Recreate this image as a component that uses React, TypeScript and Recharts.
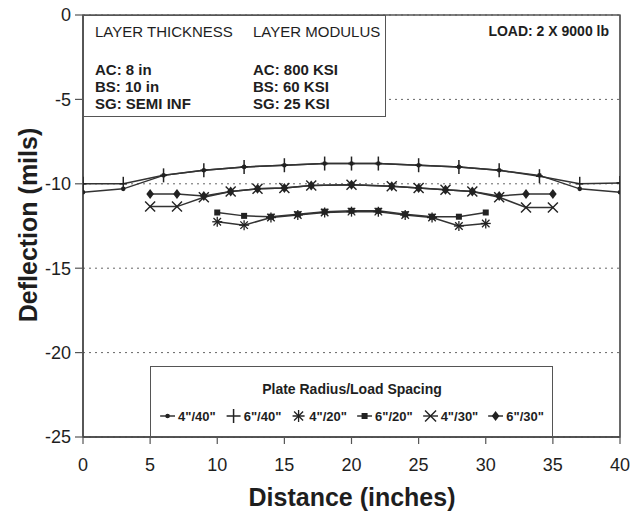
import React from 'react';
import { LineChart, Line, XAxis, YAxis, CartesianGrid, ReferenceArea } from 'recharts';

// ---- data ----
const pos40 = [0, 3, 6, 9, 12, 15, 18, 20, 22, 25, 28, 31, 34, 37, 40];
const defl4in40 = [-10.5, -10.3, -9.5, -9.2, -9.0, -8.9, -8.8, -8.8, -8.8, -8.9, -9.0, -9.2, -9.5, -10.3, -10.5];
const defl6in40 = [-10.0, -10.0, -9.5, -9.2, -9.0, -8.9, -8.8, -8.8, -8.8, -8.9, -9.0, -9.2, -9.55, -10.0, -9.95];

const pos30 = [5, 7, 9, 11, 13, 15, 17, 20, 23, 25, 27, 29, 31, 33, 35];
const defl6in30 = [-10.6, -10.6, -10.72, -10.45, -10.3, -10.25, -10.1, -10.05, -10.15, -10.25, -10.35, -10.45, -10.72, -10.6, -10.6];
const defl4in30 = [-11.35, -11.35, -10.8, -10.45, -10.3, -10.25, -10.1, -10.05, -10.15, -10.25, -10.35, -10.45, -10.8, -11.4, -11.4];

const pos20 = [10, 12, 14, 16, 18, 20, 22, 24, 26, 28, 30];
const defl6in20 = [-11.7, -11.9, -11.95, -11.8, -11.65, -11.6, -11.6, -11.8, -11.95, -11.95, -11.7];
const defl4in20 = [-12.25, -12.45, -12.0, -11.85, -11.7, -11.65, -11.65, -11.85, -12.0, -12.5, -12.35];

const xTicks = [0, 5, 10, 15, 20, 25, 30, 35, 40];
const yTicks = [0, -5, -10, -15, -20, -25];

const seriesNames = ['4"/40"', '6"/40"', '4"/20"', '6"/20"', '4"/30"', '6"/30"'];
const seriesShapes = ['dot', 'plus', 'star', 'square', 'x', 'diamond'];

const infoLeft = ['LAYER THICKNESS', 'AC: 8 in', 'BS: 10 in', 'SG: SEMI INF'];
const infoRight = ['LAYER MODULUS', 'AC: 800 KSI', 'BS: 60 KSI', 'SG: 25 KSI'];
const loadText = 'LOAD: 2 X 9000 lb';
const legendTitle = 'Plate Radius/Load Spacing';

const zip = (xs: number[], ys: number[]) => xs.map((x, i) => ({ x, y: ys[i] }));
const s4_40 = zip(pos40, defl4in40);
const s6_40 = zip(pos40, defl6in40);
const s4_20 = zip(pos20, defl4in20);
const s6_20 = zip(pos20, defl6in20);
const s4_30 = zip(pos30, defl4in30);
const s6_30 = zip(pos30, defl6in30);

const FONT = '"Liberation Sans", Arial, Helvetica, sans-serif';
const INK = '#1e1e1e';
const LINE = '#333';

function Marker({ shape, cx, cy, legend = false }: any) {
  const c = '#222';
  if (shape === 'dot') return <circle cx={cx} cy={cy} r={2.3} fill={c} />;
  if (shape === 'plus') {
    const v = 7;
    const h = legend ? 7 : 3.5;
    return (
      <g stroke={c} strokeWidth={1.5}>
        <line x1={cx} y1={cy - v} x2={cx} y2={cy + v} />
        <line x1={cx - h} y1={cy} x2={cx + h} y2={cy} />
      </g>
    );
  }
  if (shape === 'star') {
    const r = legend ? 6 : 5;
    const d = r * 0.75;
    return (
      <g stroke={c} strokeWidth={1.3}>
        <line x1={cx - r} y1={cy} x2={cx + r} y2={cy} />
        <line x1={cx} y1={cy - r} x2={cx} y2={cy + r} />
        <line x1={cx - d} y1={cy - d} x2={cx + d} y2={cy + d} />
        <line x1={cx - d} y1={cy + d} x2={cx + d} y2={cy - d} />
      </g>
    );
  }
  if (shape === 'square') return <rect x={cx - 3} y={cy - 3} width={6} height={6} fill={c} />;
  if (shape === 'x') {
    const r = legend ? 5.5 : 5;
    return (
      <g stroke={c} strokeWidth={1.4}>
        <line x1={cx - r} y1={cy - r} x2={cx + r} y2={cy + r} />
        <line x1={cx - r} y1={cy + r} x2={cx + r} y2={cy - r} />
      </g>
    );
  }
  if (shape === 'diamond')
    return <polygon points={`${cx},${cy - 5} ${cx + 3.8},${cy} ${cx},${cy + 5} ${cx - 3.8},${cy}`} fill={c} />;
  return null;
}

const dotFor = (shape: string) => (props: any) => {
  const { cx, cy, index } = props;
  if (cx == null || cy == null) return <g key={`e-${shape}-${index}`} />;
  return (
    <g key={`m-${shape}-${index}`}>
      <Marker shape={shape} cx={cx} cy={cy} />
    </g>
  );
};

function LegendIcon({ shape }: { shape: string }) {
  const withLine = shape === 'dot' || shape === 'square' || shape === 'diamond' || shape === 'x';
  return (
    <svg width={15} height={15} style={{ display: 'block' }}>
      {withLine && <line x1={0} y1={7.5} x2={15} y2={7.5} stroke={LINE} strokeWidth={1.4} />}
      <Marker shape={shape} cx={7.5} cy={7.5} legend />
    </svg>
  );
}

export default function App() {
  const W = 631;
  const H = 514;
  // container starts at page y = 0 (marginTop -8 cancels the body margin), page x = 8
  const abs = (left: number, top: number, extra: any = {}) => ({
    position: 'absolute' as const,
    left,
    top,
    whiteSpace: 'nowrap' as const,
    ...extra,
  });
  const infoRows = [31, 69, 86, 103];
  return (
    <div style={{ position: 'relative', marginTop: -8, width: W, height: H, fontFamily: FONT, color: INK, background: '#fff' }}>
      <LineChart width={W} height={H} margin={{ top: 15, right: 0, bottom: 0, left: 0 }}>
        <CartesianGrid horizontal vertical={false} stroke="#666" strokeDasharray="2 4" yAxisId="left" />
        <XAxis
          type="number"
          dataKey="x"
          domain={[0, 40]}
          ticks={xTicks}
          interval={0}
          allowDataOverflow
          height={77}
          tickSize={7}
          tickMargin={14}
          axisLine={{ stroke: '#444', strokeWidth: 1.5 }}
          tickLine={{ stroke: '#555', strokeWidth: 1.2 }}
          tick={{ fill: INK, fontSize: 18, fontFamily: FONT }}
        />
        <YAxis
          yAxisId="left"
          type="number"
          domain={[-25, 0]}
          ticks={yTicks}
          interval={0}
          allowDataOverflow
          width={75}
          tickSize={8}
          tickMargin={4}
          axisLine={{ stroke: '#444', strokeWidth: 1.5 }}
          tickLine={{ stroke: '#555', strokeWidth: 1.2 }}
          tick={{ fill: INK, fontSize: 18, fontFamily: FONT }}
        />
        <YAxis
          yAxisId="right"
          orientation="right"
          type="number"
          domain={[-25, 0]}
          ticks={yTicks}
          interval={0}
          width={19}
          tickSize={6}
          tick={false}
          axisLine={{ stroke: '#555', strokeWidth: 1.3 }}
          tickLine={{ stroke: '#666', strokeWidth: 1 }}
        />
        <ReferenceArea yAxisId="left" x1={0} x2={40} y1={-25} y2={0} fill="none" stroke="#555" strokeWidth={1.3} />
        <Line yAxisId="left" data={s4_40} dataKey="y" stroke={LINE} strokeWidth={1.5} dot={dotFor('dot')} isAnimationActive={false} />
        <Line yAxisId="left" data={s6_40} dataKey="y" stroke={LINE} strokeWidth={1.5} dot={dotFor('plus')} isAnimationActive={false} />
        <Line yAxisId="left" data={s4_20} dataKey="y" stroke={LINE} strokeWidth={1.5} dot={dotFor('star')} isAnimationActive={false} />
        <Line yAxisId="left" data={s6_20} dataKey="y" stroke={LINE} strokeWidth={1.5} dot={dotFor('square')} isAnimationActive={false} />
        <Line yAxisId="left" data={s4_30} dataKey="y" stroke={LINE} strokeWidth={1.5} dot={dotFor('x')} isAnimationActive={false} />
        <Line yAxisId="left" data={s6_30} dataKey="y" stroke={LINE} strokeWidth={1.5} dot={dotFor('diamond')} isAnimationActive={false} />
      </LineChart>

      {/* axis titles */}
      <div
        style={abs(20, 225, {
          transform: 'translate(-50%, -50%) rotate(-90deg)',
          fontSize: 25,
          fontWeight: 700,
          lineHeight: '25px',
        })}
      >
        Deflection (mils)
      </div>
      <div style={abs(344, 497, { transform: 'translate(-50%, -50%)', fontSize: 25, fontWeight: 700, lineHeight: '25px' })}>
        Distance (inches)
      </div>

      {/* info box */}
      <div
        style={abs(75, 15, {
          width: 303,
          height: 102,
          boxSizing: 'border-box',
          border: '1.5px solid #555',
          background: '#fff',
        })}
      />
      {infoLeft.map((t, i) => (
        <div
          key={`l${i}`}
          style={abs(87, infoRows[i] - 7.4, { fontSize: 15, lineHeight: '15px', fontWeight: i === 0 ? 400 : 700 })}
        >
          {t}
        </div>
      ))}
      {infoRight.map((t, i) => (
        <div
          key={`r${i}`}
          style={abs(245, infoRows[i] - 7.4, { fontSize: 15, lineHeight: '15px', fontWeight: i === 0 ? 400 : 700 })}
        >
          {t}
        </div>
      ))}
      <div style={abs(609 - 8, 31 - 7, { transform: 'translateX(-100%)', fontSize: 14, lineHeight: '14px', fontWeight: 700 })}>
        {loadText}
      </div>

      {/* legend */}
      <div
        style={abs(142, 366, {
          width: 403,
          height: 71,
          boxSizing: 'border-box',
          border: '1.5px solid #555',
          background: '#fff',
        })}
      />
      <div style={abs(344, 389, { transform: 'translate(-50%, -50%)', fontSize: 14, fontWeight: 700, lineHeight: '14px' })}>
        {legendTitle}
      </div>
      <div
        style={abs(344, 416, {
          transform: 'translate(-50%, -50%)',
          display: 'flex',
          alignItems: 'center',
          gap: 10,
          fontSize: 13,
          fontWeight: 700,
          lineHeight: '13px',
        })}
      >
        {seriesNames.map((n, i) => (
          <div key={n} style={{ display: 'flex', alignItems: 'center', gap: 3 }}>
            <LegendIcon shape={seriesShapes[i]} />
            <span>{n}</span>
          </div>
        ))}
      </div>
    </div>
  );
}
